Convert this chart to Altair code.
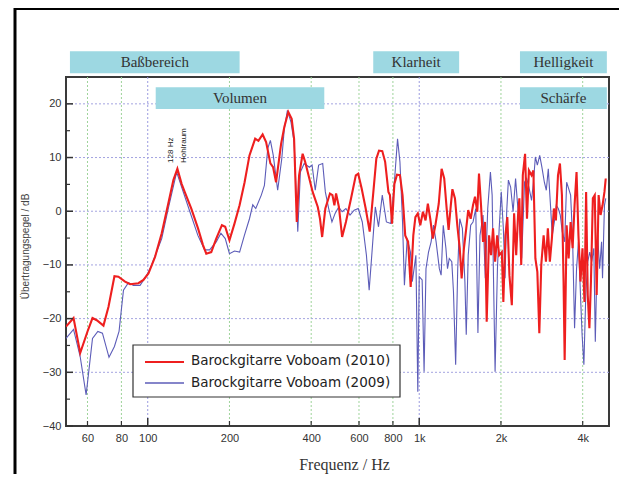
import altair as alt
import pandas as pd

# ---------------- data ----------------
series_names = ["Barockgitarre Voboam (2010)", "Barockgitarre Voboam (2009)"]

freq_2010 = [50, 53.3, 56.4, 60, 62.6, 64.9, 68.7, 71.7, 75.4, 78, 82.5, 86.1, 92.4, 96.4,
             100.6, 106.4, 112.6, 119, 124.3, 128.6, 133.3, 136.8, 144.7, 153.2, 159.8,
             164.3, 171.4, 178.8, 187.6, 192.9, 200, 208.7, 217.9, 227.4, 237, 248.7,
             255.6, 265, 272.9, 283, 289.6, 297, 310, 318.5, 329.4, 339, 346, 354, 361,
             372, 380, 391, 405, 423, 431, 439, 451, 469, 479, 487, 494, 506, 520, 537,
             561, 584, 596, 614, 635, 657, 676, 695, 711, 731, 749, 770, 780, 794, 810,
             828, 849, 868, 888, 910, 930, 951, 968, 988, 1009, 1032, 1055, 1076, 1098,
             1122, 1147, 1180, 1209, 1236, 1262, 1283, 1307, 1325, 1354, 1381, 1410,
             1433, 1461, 1490, 1515, 1547, 1578, 1605, 1636, 1660, 1689, 1718, 1747,
             1772, 1808, 1839, 1870, 1903, 1937, 1970, 2015, 2041, 2077, 2111, 2149,
             2193, 2236, 2276, 2312, 2338, 2375, 2407, 2454, 2494, 2535, 2593, 2633,
             2678, 2723, 2769, 2815, 2872, 2929, 2977, 3028, 3080, 3133, 3187, 3244,
             3298, 3354, 3401, 3433, 3491, 3551, 3611, 3672, 3734, 3797, 3859, 3926,
             3993, 4061, 4118, 4175, 4234, 4290, 4360, 4431, 4504, 4579, 4656, 4733,
             4811, 4864]
db_2010 = [-21.5, -19.9, -26.4, -22.4, -19.9, -20.3, -21.3, -17.8, -12.1, -12.2, -13.1, -13.6,
           -13.4, -12.8, -11.6, -8.5, -4.1, 1.4, 5.8, 7.9, 5.1, 3.6, 0.5, -3.2, -6.3, -7.9,
           -7.6, -5.1, -2.6, -2.9, -5.4, -2.3, 1.1, 5.4, 10.4, 13.5, 13.1, 14.3, 12.9, 8.9,
           8.2, 5.4, 12.6, 15.7, 18.5, 17.2, 13.5, -2.0, 6.7, 10.7, 9.2, 6.7, 3.6, 0.8, -1.4,
           -4.8, 0.5, 3.3, 3.0, 1.1, 3.3, 0.8, -4.8, -2.0, 2.4, 6.7, 7.0, 4.2, 0.5, -3.8,
           3.0, 9.8, 11.3, 11.2, 9.2, 3.6, 3.0, -2.3, 5.1, 6.8, 6.7, 3.0, -4.5, -5.7, -14.1,
           -4.5, -1.1, -0.4, -2.6, -0.1, -1.7, 1.4, -1.4, -5.1, -2.6, 1.4, 7.9, 6.1, 0.5,
           -3.5, 1.1, 4.1, 2.4, -2.6, -6.9, -12.5, -6.9, -3.2, 0.2, -1.4, 1.1, 2.7, -0.1,
           7.0, 1.1, -5.7, -2.0, -20.6, -4.5, -8.2, -3.2, -9.4, -4.5, -8.2, -7.6, -16.9,
           -4.5, -1.1, -11.9, -17.5, -0.4, -8.2, -0.7, 2.4, -10.0, 6.7, 10.7, -1.4, 7.6,
           6.7, 7.6, -8.8, -11.3, -22.7, -10.0, -4.5, -9.4, -3.2, -9.4, -5.1, 0.5, -1.7,
           6.7, 8.9, 3.0, -13.1, -27.7, -2.6, -8.8, -2.0, -6.9, 1.1, 7.3, -4.5, -13.1,
           -6.9, -16.9, 3.6, -15.6, -21.8, -13.1, 2.4, 3.0, -15.6, 3.0, -0.7, 1.1, 3.6, 6.1]

freq_2009 = [50, 53.3, 56.4, 59.3, 62.6, 65.5, 68.1, 72, 75.4, 78.4, 81.4, 84.9, 88.6, 93.7,
             99.2, 103.4, 112.6, 119, 127.8, 133.3, 143, 153, 162, 169, 178.8, 186, 193,
             200, 208.7, 218, 227, 237, 243.7, 250, 262, 269, 276.8, 283, 290, 301, 311.7,
             318.5, 327, 337, 346, 357, 365, 377, 394, 403, 414, 426, 441, 451, 464, 477,
             490, 505, 520, 537, 556, 576, 596, 617, 639, 654, 670, 689, 708, 731, 757,
             786, 810, 832, 849, 868, 882, 903, 928, 943, 972, 988, 1000, 1025, 1042,
             1059, 1082, 1106, 1129, 1154, 1186, 1204, 1226, 1254, 1271, 1290, 1318,
             1337, 1362, 1386, 1410, 1442, 1473, 1490, 1515, 1547, 1578, 1615, 1645,
             1674, 1718, 1751, 1788, 1829, 1856, 1882, 1903, 1941, 1970, 2005, 2041,
             2070, 2100, 2130, 2171, 2217, 2264, 2299, 2338, 2384, 2443, 2487, 2535,
             2593, 2633, 2678, 2723, 2778, 2830, 2890, 2938, 2988, 3039, 3090, 3145,
             3198, 3252, 3307, 3363, 3433, 3491, 3551, 3611, 3672, 3734, 3797, 3859,
             3926, 3980, 4041, 4106, 4175, 4247, 4317, 4396, 4452, 4541, 4618, 4695,
             4733, 4811, 4864]
db_2009 = [-23.7, -22.0, -27.1, -34.2, -23.7, -22.4, -22.7, -27.2, -25.2, -22.4, -14.7, -13.3,
           -13.8, -13.8, -11.9, -10.0, -5.1, 0.5, 7.3, 4.5, -0.1, -4.5, -7.2, -7.2, -5.7,
           -4.1, -5.1, -7.9, -7.4, -7.6, -4.5, -1.4, 1.2, 0.5, 3.0, 4.8, 11.7, 13.2, 10.4,
           3.9, 9.8, 15.4, 18.8, 16.6, 12.9, -3.8, 7.3, 8.9, 8.2, 8.6, 3.9, 8.6, 8.9, 3.6,
           0.5, -2.0, -0.4, 0.8, -0.1, 0.5, -0.7, 0.2, 0.5, -2.0, -8.2, -14.7, -7.6, 0.8,
           -2.9, 3.0, -2.0, -2.3, 5.4, 13.5, 9.2, -2.0, -13.8, -5.1, -7.6, -13.1, -8.2,
           -33.6, -12.2, -12.8, -29.9, -10.7, -7.6, -5.7, -2.6, -5.7, -10.7, -11.9, -2.6,
           -6.9, -10.7, -8.8, -9.4, -15.0, -28.6, -10.7, -1.4, -3.2, -13.1, -23.0, -8.2,
           -2.6, -2.0, 0.5, -22.7, -4.5, -0.7, -12.5, 0.5, 7.3, 3.0, -15.6, -29.9, -10.7,
           -3.2, 3.6, -3.2, -12.5, 0.0, 5.8, 4.5, -0.1, 6.1, 1.7, -2.6, -8.8, 5.4, 6.1, 4.5,
           2.0, 5.4, 10.1, 8.6, 10.4, 8.2, 5.4, 3.9, 7.9, 1.7, -4.5, -2.0, 1.1, 0.5, -0.7,
           -3.8, -5.7, 5.4, 4.2, 3.0, -5.1, -21.8, -10.7, -5.7, -15.6, -23.0, -28.6, -15.6,
           -9.4, -7.6, -9.4, -6.9, -24.3, -4.5, -10.7, -5.7, -12.5, 1.1, 2.4]

x_tick_values = [60, 80, 100, 200, 400, 600, 800, 1000, 2000, 4000]
x_major_ticks = [100, 1000]
x_minor_ticks = [60, 80, 200, 400, 600, 800, 2000, 4000]
y_tick_values = [-40, -30, -20, -10, 0, 10, 20]
y_minor_ticks = [-35, -25, -15, -5, 5, 15]
grid_green = [60, 80, 200, 400, 600, 800, 2000, 4000]
grid_blue = [100, 1000]
grid_h = [-30, -20, -10, 0, 10, 20]

band_labels = ["Baßbereich", "Volumen", "Klarheit", "Helligkeit", "Schärfe"]
band_start = [51.7, 107, 677, 2350, 2350]
band_end = [218, 447, 1403, 4910, 4910]
band_top = [29.8, 23.1, 29.8, 29.8, 23.1]
band_bottom = [25.7, 19.05, 25.7, 25.7, 19.05]

note_lines = ["128 Hz", "Hohlraum"]
note_freq = [121.5, 135.6]
note_db = [9.0, 9.0]

# ---------------- chart ----------------
W, H = 543, 349
RED = "#ee1f1f"
BLUE = "#5c5cb8"
xs = alt.Scale(type="log", domain=[50, 5000], nice=False)
ys = alt.Scale(domain=[-40, 25], nice=False, zero=False)
one = pd.DataFrame({"a": [0]})

x_axis = alt.Axis(
    values=x_tick_values, ticks=False, grid=False, domain=False,
    labelExpr="datum.value >= 1000 ? format(datum.value/1000, 'd') + 'k' : format(datum.value, 'd')",
    labelFont="Liberation Sans", labelFontSize=11, labelColor="#333", labelPadding=6,
    title="Frequenz / Hz", titleFont="Liberation Serif", titleFontSize=16,
    titleFontWeight="normal", titleColor="#333", titleX=278, titleY=43,
    titleBaseline="alphabetic", titleAlign="center")
y_axis = alt.Axis(
    values=y_tick_values, ticks=False, grid=False, domain=False,
    labelFont="Liberation Sans", labelFontSize=11, labelColor="#333", labelPadding=5,
    title="Übertragungspegel / dB", titleFont="Liberation Sans", titleFontSize=10,
    titleFontWeight="normal", titleColor="#444", titleX=-41, titleY=169,
    titleAngle=270, titleAlign="center", titleBaseline="middle")


def X(field):
    return alt.X(field, scale=xs, axis=x_axis)


def Y(field):
    return alt.Y(field, scale=ys, axis=y_axis)


frame = alt.Chart(one).mark_rect(filled=False, stroke="black", strokeWidth=3).encode(
    x=alt.value(-51), x2=alt.value(700), y=alt.value(-68.5), y2=alt.value(700))

g_green = alt.Chart(pd.DataFrame({"f": grid_green})).mark_rule(
    color="#9ed49a", strokeDash=[2, 2], strokeWidth=1).encode(x=X("f:Q"))
g_blue = alt.Chart(pd.DataFrame({"f": grid_blue})).mark_rule(
    color="#9c9ce0", strokeDash=[2, 2], strokeWidth=1).encode(x=X("f:Q"))
g_h = alt.Chart(pd.DataFrame({"v": grid_h})).mark_rule(
    color="#a4a4e0", strokeDash=[2, 2], strokeWidth=1).encode(y=Y("v:Q"))

df09 = pd.DataFrame({"f": freq_2009, "db": db_2009})
df10 = pd.DataFrame({"f": freq_2010, "db": db_2010})

line09 = alt.Chart(df09).mark_line(color=BLUE, strokeWidth=1.1, clip=True).encode(
    x=X("f:Q"), y=Y("db:Q"), order=alt.Order("f:Q"))
line10 = alt.Chart(df10).mark_line(color=RED, strokeWidth=2.1, clip=True).encode(
    x=X("f:Q"), y=Y("db:Q"), order=alt.Order("f:Q"))

bands = pd.DataFrame({"label": band_labels, "x0": band_start, "x1": band_end,
                      "y0": band_bottom, "y1": band_top})
bands["xm"] = (bands["x0"] * bands["x1"]) ** 0.5
bands["ym"] = (bands["y0"] + bands["y1"]) / 2
band_rect = alt.Chart(bands).mark_rect(color="#9dd8e2").encode(
    x=X("x0:Q"), x2="x1:Q", y=Y("y0:Q"), y2="y1:Q")
band_text = alt.Chart(bands).mark_text(font="Liberation Serif", fontSize=15, color="#333",
                                       baseline="middle", align="center").encode(
    x=X("xm:Q"), y=Y("ym:Q"), text="label:N")

notes = pd.DataFrame({"t": note_lines, "f": note_freq, "db": note_db})
note_text = alt.Chart(notes).mark_text(font="Liberation Sans", fontSize=8, color="#222",
                                       angle=270, align="left", baseline="middle").encode(
    x=X("f:Q"), y=Y("db:Q"), text="t:N")

xt_major = alt.Chart(pd.DataFrame({"f": x_major_ticks})).mark_rule(
    color="#333", strokeWidth=1.5).encode(x=X("f:Q"), y=alt.value(H), y2=alt.value(H - 8))
xt_minor = alt.Chart(pd.DataFrame({"f": x_minor_ticks})).mark_rule(
    color="#333", strokeWidth=1.2).encode(x=X("f:Q"), y=alt.value(H), y2=alt.value(H - 5))
yt_major = alt.Chart(pd.DataFrame({"v": y_tick_values})).mark_rule(
    color="#333", strokeWidth=1.5).encode(y=Y("v:Q"), x=alt.value(0), x2=alt.value(7))
yt_minor = alt.Chart(pd.DataFrame({"v": y_minor_ticks})).mark_rule(
    color="#333", strokeWidth=1.2).encode(y=Y("v:Q"), x=alt.value(0), x2=alt.value(4))

leg_box = alt.Chart(one).mark_rect(fill="white", stroke="#333", strokeWidth=1.2).encode(
    x=alt.value(67), x2=alt.value(334), y=alt.value(268), y2=alt.value(320))
leg_r1 = alt.Chart(one).mark_rule(color=RED, strokeWidth=2).encode(
    x=alt.value(79), x2=alt.value(118), y=alt.value(285))
leg_r2 = alt.Chart(one).mark_rule(color=BLUE, strokeWidth=1.5).encode(
    x=alt.value(79), x2=alt.value(118), y=alt.value(306))
leg_t1 = alt.Chart(one).mark_text(font="DejaVu Sans", fontSize=13.5, color="#222",
                                  align="left", baseline="middle").encode(
    x=alt.value(125), y=alt.value(284), text=alt.value(series_names[0]))
leg_t2 = alt.Chart(one).mark_text(font="DejaVu Sans", fontSize=13.5, color="#222",
                                  align="left", baseline="middle").encode(
    x=alt.value(125), y=alt.value(306), text=alt.value(series_names[1]))

chart = alt.layer(
    frame, g_green, g_blue, g_h, line09, line10, band_rect, band_text, note_text,
    xt_major, xt_minor, yt_major, yt_minor, leg_box, leg_r1, leg_r2, leg_t1, leg_t2
).properties(
    width=W, height=H,
    autosize=alt.AutoSizeParams(type="none"),
    padding={"left": 58, "top": 69, "right": 10, "bottom": 48},
    background="white",
).configure_view(stroke="#3a3a3a", strokeWidth=2)

chart.save("out.html", embed_options={"renderer": "svg", "actions": False})
